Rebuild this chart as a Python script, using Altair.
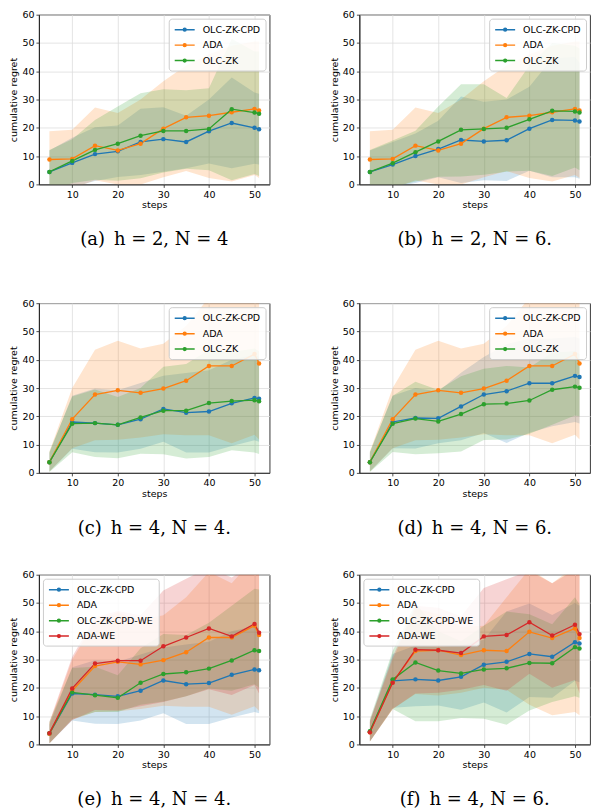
import altair as alt
import pandas as pd

STEPS = [5, 10, 15, 20, 25, 30, 35, 40, 45, 50, 51]

# ---------- panel (a) h=2, N=4 ----------
a_cpd = [4.4, 7.6, 10.7, 11.7, 15.0, 16.0, 15.0, 18.8, 21.7, 20.0, 19.5]
a_cpd_lo = [-3.0, -1.0, 1.2, 2.6, 3.3, 4.5, 5.7, 7.4, 5.7, 7.3, 7.0]
a_cpd_hi = [12.0, 16.5, 20.2, 20.8, 26.7, 27.3, 24.3, 30.0, 37.8, 32.5, 32.0]
a_ada = [8.8, 9.0, 13.7, 12.0, 14.4, 19.7, 23.7, 24.3, 25.5, 26.7, 26.1]
a_ada_lo = [-1.5, -1.5, 1.5, 0.0, 0.0, 2.5, 4.7, 2.3, 1.0, 3.3, 2.3]
a_ada_hi = [18.8, 19.3, 27.2, 25.2, 30.0, 36.5, 42.0, 46.0, 49.0, 50.5, 50.5]
a_zk = [4.4, 8.3, 12.2, 14.4, 17.2, 18.9, 18.9, 19.6, 26.6, 25.4, 25.0]
a_zk_lo = [-3.0, 0.5, 1.6, 1.3, 2.2, 4.2, 5.5, 5.0, 1.5, 3.7, 3.0]
a_zk_hi = [12.2, 16.0, 22.8, 27.5, 32.2, 33.6, 33.3, 34.0, 51.5, 47.0, 47.0]

# ---------- panel (b) h=2, N=6 ----------
b_cpd = [4.4, 7.0, 10.0, 12.5, 15.7, 15.2, 15.6, 19.7, 22.8, 22.6, 22.2]
b_cpd_lo = [-3.0, -1.0, 0.5, 2.5, 0.5, 1.5, 1.2, 4.8, 2.5, 2.5, 2.0]
b_cpd_hi = [12.0, 15.0, 18.0, 22.5, 31.1, 29.2, 30.0, 34.5, 44.5, 45.0, 43.0]
b_ada = [8.8, 9.0, 13.7, 12.0, 14.4, 19.7, 23.7, 24.3, 25.5, 26.7, 26.1]
b_ada_lo = [-1.5, -1.5, 1.5, 0.0, 0.0, 2.5, 4.7, 2.3, 1.0, 3.3, 2.3]
b_ada_hi = [18.8, 19.3, 27.2, 25.2, 30.0, 36.5, 42.0, 46.0, 49.0, 50.5, 50.5]
b_zk = [4.4, 7.5, 11.4, 15.2, 19.3, 19.6, 20.0, 23.0, 26.0, 25.8, 25.4]
b_zk_lo = [-3.0, -1.0, 1.0, 2.7, 2.8, 3.4, 4.5, 4.8, 3.0, 6.0, 5.0]
b_zk_hi = [12.2, 15.5, 19.0, 27.5, 35.4, 35.4, 30.5, 42.0, 50.0, 49.0, 48.0]

# ---------- panel (c) h=4, N=4 ----------
c_cpd = [3.8, 18.0, 17.6, 17.0, 19.0, 22.6, 21.3, 21.7, 24.6, 26.5, 26.2]
c_cpd_lo = [0.5, 8.5, 7.3, 7.2, 8.5, 11.0, 7.2, 7.2, 9.5, 11.5, 11.0]
c_cpd_hi = [7.0, 27.3, 29.8, 29.2, 31.8, 34.3, 35.3, 36.3, 40.0, 41.8, 41.0]
c_ada = [3.8, 19.0, 27.7, 29.2, 28.3, 29.8, 32.6, 37.8, 37.8, 42.0, 38.7]
c_ada_lo = [0.5, 8.7, 11.5, 11.7, 12.5, 13.7, 13.3, 13.3, 10.5, 13.5, 11.8]
c_ada_hi = [7.5, 30.0, 43.5, 46.7, 44.0, 45.7, 52.0, 62.0, 65.0, 68.0, 66.0]
c_zk = [3.8, 17.4, 17.6, 17.0, 19.6, 22.0, 22.0, 24.7, 25.4, 25.7, 25.3]
c_zk_lo = [0.3, 7.3, 5.6, 5.2, 6.8, 6.6, 5.1, 5.6, 8.0, 7.2, 6.7]
c_zk_hi = [7.5, 27.0, 29.5, 26.8, 30.0, 37.5, 38.5, 43.5, 42.7, 44.0, 43.0]

# ---------- panel (d) h=4, N=6 ----------
d_cpd = [3.8, 18.0, 19.4, 19.3, 23.5, 27.7, 28.9, 31.7, 31.7, 34.3, 33.9]
d_cpd_lo = [0.5, 8.7, 8.6, 10.5, 11.5, 14.1, 10.6, 14.2, 16.5, 18.0, 17.5]
d_cpd_hi = [7.0, 27.3, 30.0, 28.8, 35.4, 41.0, 45.5, 47.5, 47.5, 48.0, 47.5]
d_ada = [3.8, 19.0, 27.7, 29.2, 28.3, 29.8, 32.6, 37.8, 37.8, 42.0, 38.7]
d_ada_lo = [0.5, 8.7, 11.5, 11.7, 12.5, 13.7, 13.3, 13.3, 10.5, 13.5, 11.8]
d_ada_hi = [7.5, 30.0, 43.5, 46.7, 44.0, 45.7, 52.0, 62.0, 65.0, 68.0, 66.0]
d_zk = [3.8, 17.4, 19.2, 18.2, 20.8, 24.3, 24.5, 25.6, 29.4, 30.5, 30.1]
d_zk_lo = [0.3, 7.4, 6.6, 6.9, 7.6, 11.6, 11.8, 13.8, 17.0, 20.3, 20.0]
d_zk_hi = [7.5, 27.3, 32.2, 29.3, 34.2, 36.8, 37.8, 37.3, 42.5, 43.0, 42.0]

# ---------- panel (e) h=4, N=4 (with WE) ----------
e_cpd = [3.8, 18.0, 17.6, 17.0, 19.0, 22.6, 21.3, 21.7, 24.6, 26.5, 26.2]
e_cpd_lo = [0.5, 8.5, 7.3, 7.2, 8.5, 11.0, 7.2, 7.2, 9.5, 11.5, 11.0]
e_cpd_hi = [7.0, 27.3, 29.8, 29.2, 31.8, 34.3, 35.3, 36.3, 40.0, 41.8, 41.0]
e_ada = [3.8, 19.0, 27.7, 29.2, 28.3, 29.8, 32.6, 37.8, 37.8, 42.0, 38.7]
e_ada_lo = [0.5, 8.7, 11.5, 11.7, 12.5, 13.7, 13.3, 13.3, 10.5, 13.5, 11.8]
e_ada_hi = [7.5, 30.0, 43.5, 46.7, 44.0, 45.7, 52.0, 61.0, 57.0, 66.0, 66.0]
e_we = [4.0, 18.4, 17.4, 16.5, 21.8, 24.9, 25.5, 26.8, 29.7, 33.3, 33.0]
e_we_lo = [0.3, 9.0, 11.5, 11.5, 14.0, 15.2, 17.0, 19.8, 19.0, 21.3, 20.0]
e_we_hi = [8.0, 27.0, 27.5, 24.5, 34.0, 39.0, 38.7, 43.0, 49.0, 55.0, 54.8]
e_adawe = [4.0, 19.8, 28.6, 29.6, 29.6, 34.7, 37.8, 41.0, 38.2, 42.6, 39.5]
e_adawe_lo = [0.3, 8.6, 12.2, 12.0, 13.5, 15.0, 17.0, 19.5, 17.5, 21.0, 18.0]
e_adawe_hi = [8.0, 31.0, 45.0, 47.2, 45.7, 54.4, 58.6, 62.5, 59.0, 64.2, 61.0]

# ---------- panel (f) h=4, N=6 (with WE) ----------
f_cpd = [4.5, 22.5, 23.0, 22.6, 23.9, 28.2, 29.2, 32.0, 31.0, 36.1, 35.7]
f_cpd_lo = [1.0, 13.0, 13.5, 13.8, 12.3, 14.8, 11.3, 16.8, 16.5, 22.5, 22.0]
f_cpd_hi = [8.0, 32.0, 35.0, 34.5, 35.0, 37.0, 47.0, 49.8, 45.8, 50.0, 49.0]
f_ada = [4.3, 22.0, 33.0, 33.3, 31.6, 33.3, 33.0, 39.8, 37.6, 41.0, 37.6]
f_ada_lo = [1.0, 12.5, 17.8, 17.3, 18.3, 20.0, 19.3, 14.0, 10.3, 11.5, 10.3]
f_ada_hi = [8.0, 30.0, 48.0, 46.0, 41.5, 42.0, 52.0, 62.0, 57.0, 63.0, 63.0]
f_we = [4.7, 23.0, 29.0, 26.1, 25.1, 26.5, 26.9, 28.8, 28.7, 34.4, 33.9]
f_we_lo = [1.0, 12.5, 8.2, 8.2, 9.3, 9.1, 7.0, 12.0, 15.0, 17.0, 16.5]
f_we_hi = [9.0, 33.0, 50.0, 40.0, 36.5, 42.0, 47.0, 46.0, 42.5, 52.0, 49.5]
f_adawe = [4.3, 21.8, 33.5, 33.3, 32.3, 38.2, 38.7, 43.2, 38.5, 42.3, 39.0]
f_adawe_lo = [1.0, 12.5, 18.0, 18.3, 19.3, 21.0, 19.0, 25.0, 20.0, 22.8, 18.0]
f_adawe_hi = [8.5, 31.0, 49.0, 48.3, 45.3, 55.3, 58.4, 61.4, 57.0, 61.8, 60.0]

NAMES3 = ["OLC-ZK-CPD", "ADA", "OLC-ZK"]
NAMES4 = ["OLC-ZK-CPD", "ADA", "OLC-ZK-CPD-WE", "ADA-WE"]
COLORS3 = ["#1f77b4", "#ff7f0e", "#2ca02c"]
COLORS4 = ["#1f77b4", "#ff7f0e", "#2ca02c", "#d62728"]

CAPTIONS = {
    "a": "(a)\u2002h = 2, N = 4",
    "b": "(b)\u2002h = 2, N = 6.",
    "c": "(c)\u2002h = 4, N = 4.",
    "d": "(d)\u2002h = 4, N = 6.",
    "e": "(e)\u2002h = 4, N = 4.",
    "f": "(f)\u2002h = 4, N = 6.",
}

W, H = 231, 170
FONT = "DejaVu Sans"
LEG_SYMBOL = "M-2,0L2,0M-0.28,0A0.28,0.28,0,1,0,0.28,0A0.28,0.28,0,1,0,-0.28,0"


def build_df(names, series):
    rows = []
    for order, (name, (mean, lo, hi)) in enumerate(zip(names, series)):
        for s, m, l, h in zip(STEPS, mean, lo, hi):
            rows.append({"series": name, "order": order, "step": s,
                         "mean": m, "lo": l, "hi": h})
    return pd.DataFrame(rows)


def panel(key, names, colors, series, legend_orient):
    df = build_df(names, series)
    x = alt.X("step:Q", title="steps",
              scale=alt.Scale(domain=[2.7, 53.3], nice=False, zero=False),
              axis=alt.Axis(values=[10, 20, 30, 40, 50]))
    y_scale = alt.Scale(domain=[0, 60], nice=False)
    y_axis = alt.Axis(values=[0, 10, 20, 30, 40, 50, 60])
    legend = alt.Legend(
        title=None, orient=legend_orient, offset=4,
        fillColor="rgba(255,255,255,0.85)", strokeColor="#cccccc",
        cornerRadius=3, padding=5, labelFont=FONT, labelFontSize=9.5,
        labelColor="black", symbolType=LEG_SYMBOL, symbolSize=100,
        symbolStrokeWidth=1.5, symbolOpacity=1, symbolOffset=5,
        rowPadding=4.5, labelOffset=12,
    )
    color = alt.Color("series:N", scale=alt.Scale(domain=names, range=colors),
                      legend=legend)
    base = alt.Chart(df)
    band = base.mark_area(opacity=0.2, clip=True).encode(
        x=x,
        y=alt.Y("lo:Q", title="cumulative regret", scale=y_scale, axis=y_axis),
        y2="hi:Q",
        color=color,
        detail="series:N",
        order="order:Q",
    )
    line = base.mark_line(strokeWidth=1.3, clip=True).encode(
        x=x,
        y=alt.Y("mean:Q", title="cumulative regret", scale=y_scale, axis=y_axis),
        color=color,
        order="step:Q",
    )
    pts = base.mark_circle(size=20, opacity=1).encode(
        x=x,
        y=alt.Y("mean:Q", title="cumulative regret", scale=y_scale, axis=y_axis),
        color=color,
    )
    return alt.layer(band, line, pts).properties(
        width=W, height=H,
        title=alt.TitleParams(
            CAPTIONS[key], orient="bottom", anchor="middle", frame="group",
            font="DejaVu Serif", fontSize=18, fontWeight="normal",
            color="black", offset=22,
        ),
    )


pa = panel("a", NAMES3, COLORS3, [(a_cpd, a_cpd_lo, a_cpd_hi), (a_ada, a_ada_lo, a_ada_hi), (a_zk, a_zk_lo, a_zk_hi)], "top-right")
pb = panel("b", NAMES3, COLORS3, [(b_cpd, b_cpd_lo, b_cpd_hi), (b_ada, b_ada_lo, b_ada_hi), (b_zk, b_zk_lo, b_zk_hi)], "top-right")
pc = panel("c", NAMES3, COLORS3, [(c_cpd, c_cpd_lo, c_cpd_hi), (c_ada, c_ada_lo, c_ada_hi), (c_zk, c_zk_lo, c_zk_hi)], "top-right")
pd_ = panel("d", NAMES3, COLORS3, [(d_cpd, d_cpd_lo, d_cpd_hi), (d_ada, d_ada_lo, d_ada_hi), (d_zk, d_zk_lo, d_zk_hi)], "top-right")
pe = panel("e", NAMES4, COLORS4, [(e_cpd, e_cpd_lo, e_cpd_hi), (e_ada, e_ada_lo, e_ada_hi), (e_we, e_we_lo, e_we_hi), (e_adawe, e_adawe_lo, e_adawe_hi)], "top-left")
pf = panel("f", NAMES4, COLORS4, [(f_cpd, f_cpd_lo, f_cpd_hi), (f_ada, f_ada_lo, f_ada_hi), (f_we, f_we_lo, f_we_hi), (f_adawe, f_adawe_lo, f_adawe_hi)], "top-left")

HS = 58
row1 = alt.hconcat(pa, pb, spacing=HS).resolve_scale(color="independent").resolve_legend(color="independent")
row2 = alt.hconcat(pc, pd_, spacing=HS).resolve_scale(color="independent").resolve_legend(color="independent")
row3 = alt.hconcat(pe, pf, spacing=HS).resolve_scale(color="independent").resolve_legend(color="independent")

lower = alt.vconcat(row2, row3, spacing=30).resolve_scale(color="independent").resolve_legend(color="independent")
chart = alt.vconcat(row1, lower, spacing=47).resolve_scale(color="independent").resolve_legend(color="independent")

chart = chart.properties(padding=0).configure_view(
    stroke="#222222", strokeWidth=0.9
).configure_axis(
    labelFont=FONT, labelFontSize=9.5, labelColor="black",
    titleFont=FONT, titleFontSize=9.5, titleFontWeight="normal", titleColor="black",
    tickColor="#222222", tickSize=3, tickWidth=0.8, labelPadding=2,
    domainColor="#222222", domainWidth=0.9,
    gridColor="#dddddd", gridWidth=0.8,
).configure_axisX(titlePadding=1, labelFlush=False).configure_axisY(titlePadding=3)

chart.save("out.html", embed_options={"renderer": "svg", "actions": False})
